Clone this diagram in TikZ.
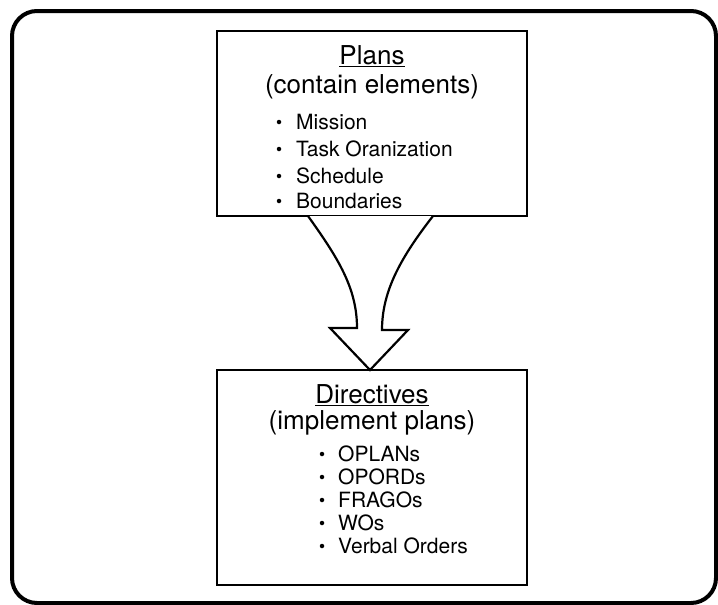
\documentclass[tikz,border=0pt]{standalone}
\usepackage{fontspec}
\setmainfont{TeX Gyre Heros}
\usetikzlibrary{calc}
\tikzset{
  frame/.style={draw, line width=4pt, rounded corners=25pt},
  panel/.style={draw, line width=2.6pt},
  head/.style={font=\fontsize{26}{30}\selectfont, inner sep=0pt},
  item/.style={font=\fontsize{21}{25}\selectfont, inner sep=0pt, anchor=west},
  dot/.style={circle, fill, inner sep=0pt, minimum size=4.5pt},
  flow/.style={draw, line width=2.2pt, line join=miter, fill=white}
}
\begin{document}
\begin{tikzpicture}[x=1pt, y=-1pt]
  \useasboundingbox (0,0) rectangle (718,605);
  % outer frame
  \draw[frame] (12,11) rectangle (716,603);

  % plans panel
  \draw[panel] (217,31) coordinate (pTL) rectangle (527,216) coordinate (pBR);
  \node[head] (plansT) at (372,56) {\underline{Plans}};
  \node[head] (plansS) at (372,87) {(contain elements)};
  \foreach \t/\y [count=\i] in {Mission/122, Task Oranization/149, Schedule/176, Boundaries/201} {
    \node[dot] (pd\i) at (279,\y) {};
    \node[item] (pi\i) at (296,\y) {\t};
  }

  % directives panel
  \draw[panel] (217,370) coordinate (dTL) rectangle (527,585) coordinate (dBR);
  \node[head] (dirT) at (372,395) {\underline{Directives}};
  \node[head] (dirS) at (372,423) {(implement plans)};
  \foreach \t/\y [count=\i] in {OPLANs/454, OPORDs/477, FRAGOs/500, WOs/523, Verbal Orders/546} {
    \node[dot] (dd\i) at (322,\y) {};
    \node[item] (di\i) at (338,\y) {\t};
  }

  % curved block arrow from plans to directives
  \coordinate (aL) at (308,216);
  \coordinate (aR) at (433,216);
  \coordinate (tip) at (370,370);
  \draw[flow] (aL) .. controls (338,258) and (357,288) .. (357,328)
    -- (330,328) -- (tip) -- (408,330) -- (382,330)
    .. controls (382,290) and (402,256) .. (aR);
\end{tikzpicture}
\end{document}
